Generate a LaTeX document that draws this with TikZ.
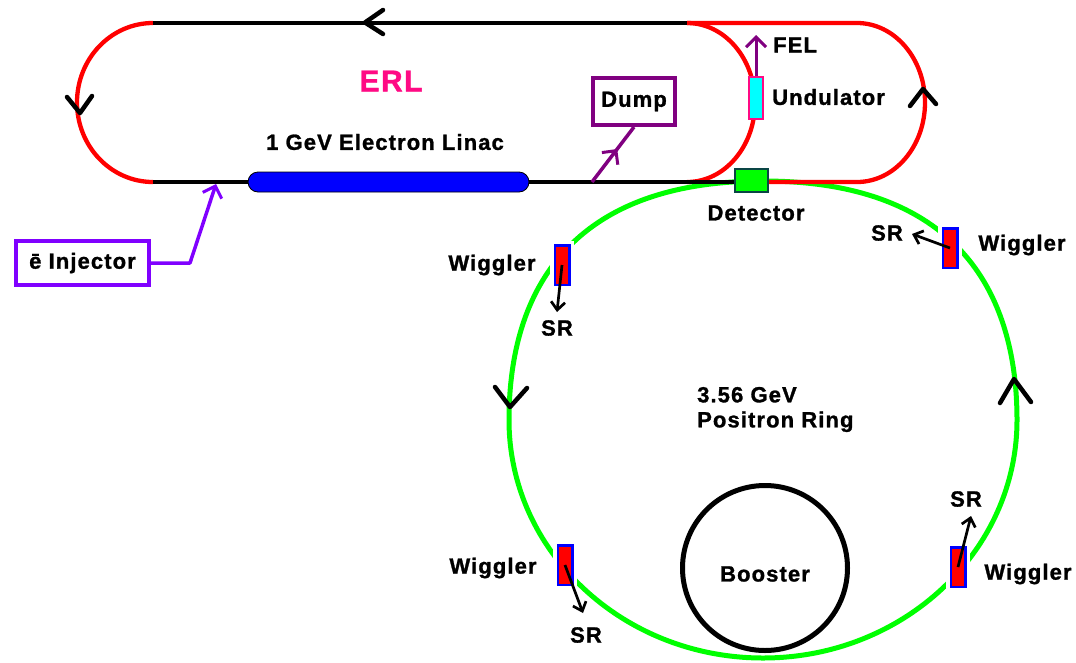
\documentclass[tikz,border=0pt]{standalone}
\usepackage{fontspec}
\setmainfont{Liberation Sans}[LetterSpace=5, BoldFeatures={FakeBold=1.2}]
\usetikzlibrary{arrows.meta,calc}
\definecolor{ringgreen}{HTML}{00FF00}
\definecolor{erlred}{HTML}{FF0000}
\definecolor{erlpink}{HTML}{FF0A84}
\definecolor{injviolet}{HTML}{8000FF}
\definecolor{dumppurple}{HTML}{800080}
\definecolor{detborder}{HTML}{0A4545}
\definecolor{linacblue}{HTML}{0000FF}
\definecolor{undcyan}{HTML}{00FFFF}
\begin{document}
\begin{tikzpicture}[x=1pt,y=-1pt,
  lbl/.style={font=\fontsize{22}{25}\selectfont\bfseries, inner sep=0pt},
  beam/.style={line width=4.3pt},
  chevron/.style={line width=4.5pt, line cap=round, line join=round},
  wiggler/.style={draw=blue, fill=red, line width=2.5pt, minimum width=14.5pt, minimum height=39.5pt, inner sep=0pt, preaction={draw=white, line width=9pt}},
  srarrow/.style={line width=2.7pt, -{Straight Barb[length=8pt,width=14pt,line width=2.7pt]}},
  barb/.style={-{Straight Barb[length=10pt,width=20pt,line width=3pt]}},
]
\useasboundingbox[fill=white] (0,0) rectangle (1076,662);

% positron ring
\draw[ringgreen, line width=5pt] (509,420) .. controls (509,288.5) and (572.5,181) .. (763,181)
  .. controls (953.5,181) and (1017,288.5) .. (1017,420)
  .. controls (1017,551.4) and (903.3,658) .. (763,658)
  .. controls (622.7,658) and (509,551.4) .. (509,420) -- cycle;

% ERL loops
\draw[erlred, beam] (153,23) arc[x radius=76, y radius=79.5, start angle=270, end angle=90];
\draw[erlred, beam] (687,23) arc[x radius=68, y radius=79.5, start angle=-90, end angle=90];
\draw[erlred, beam, line join=round] (687,23) -- (857,23) arc[x radius=68, y radius=79.5, start angle=-90, end angle=90] -- (769,182);
\draw[beam] (153,23) -- (687,23);
\draw[beam] (153,182) -- (734,182);

% linac
\node[draw=black, line width=0.8pt, fill=linacblue, rounded corners=10pt, minimum width=281pt, minimum height=20pt, inner sep=0pt] (linac) at (388.5,182) {};
\node[lbl] (linacl) at (385,142) {1 GeV Electron Linac};
\node[font=\fontsize{30}{32}\selectfont\bfseries, text=erlpink, inner sep=0pt] (erl) at (391,81) {ERL};

% detector
\node[draw=detborder, fill=ringgreen, line width=2.5pt, minimum width=33pt, minimum height=23pt, inner sep=0pt] (det) at (751.5,180.5) {};
\node[lbl] (detl) at (756,213) {Detector};

% undulator + FEL
\node[draw=erlpink, fill=undcyan, line width=2pt, minimum width=14pt, minimum height=42pt, inner sep=0pt] (und) at (756,98) {};
\coordinate (feltip) at (756,35);
\draw[dumppurple, line width=3pt, barb] (und.north) -- (feltip);
\node[lbl, anchor=west] (fell) at (773,45) {FEL};
\node[lbl, anchor=west] (undl) at (772,97) {Undulator};

% dump
\node[draw=dumppurple, line width=4pt, minimum width=82pt, minimum height=47pt, inner sep=0pt, font=\fontsize{22}{25}\selectfont\bfseries] (dump) at (634,101.5) {Dump};
\coordinate (dumpstart) at (592,182);
\draw[dumppurple, line width=3.5pt, barb] (dumpstart) -- ($(dumpstart)!0.6!(dump.south)$);
\draw[dumppurple, line width=3.5pt] ($(dumpstart)!0.5!(dump.south)$) -- (dump.south);

% injector
\node[draw=injviolet, line width=4pt, minimum width=133pt, minimum height=44pt, inner sep=0pt, font=\fontsize{22}{25}\selectfont\bfseries] (inj) at (82.5,263) {ē Injector};
\coordinate (injbend) at (190,263);
\coordinate (injtip) at (216,184);
\draw[injviolet, line width=3.5pt, barb, line join=round] (inj.east) -- (injbend) -- (injtip);

% direction chevrons
\draw[chevron] (383,10) -- (365,22.5) -- (383,34);
\draw[chevron] (67,97) -- (80,113) -- (92,96);
\draw[chevron] (910,106) -- (923,89) -- (936,104);
\draw[chevron] (495,387) -- (510,407) -- (527,388);
\draw[chevron] (1000,403) -- (1014,379) -- (1031,402);

% booster
\node[circle, draw, line width=5pt, minimum size=165pt, inner sep=0pt] (booster) at (765,568) {};
\node[lbl] (boosterl) at (765,574) {Booster};

% wigglers
\node[wiggler] (wul) at (562,265) {};
\node[wiggler] (wur) at (950,248) {};
\node[wiggler] (wll) at (565,565) {};
\node[wiggler] (wlr) at (958,567) {};
\node[lbl] (wull) at (492,265) {Wiggler};
\node[lbl] (wurl) at (1022,245) {Wiggler};
\node[lbl] (wlll) at (493,568) {Wiggler};
\node[lbl] (wlrl) at (1028,574) {Wiggler};

% synchrotron radiation
\coordinate (srul) at (557,312);
\coordinate (srur) at (912,234);
\coordinate (srll) at (583,613);
\coordinate (srlr) at (971,516);
\draw[srarrow] (wul.center) -- (srul);
\draw[srarrow] (wur.center) -- (srur);
\draw[srarrow] (wll.center) -- (srll);
\draw[srarrow] (wlr.center) -- (srlr);
\node[lbl] (srull) at (557,328) {SR};
\node[lbl] (srurl) at (887,233) {SR};
\node[lbl] (srlll) at (586,635) {SR};
\node[lbl] (srlrl) at (966,499) {SR};

% ring label
\node[lbl, align=left, anchor=west] (ringl) at (697,409.5) {3.56 GeV\\Positron Ring};
\end{tikzpicture}
\end{document}
